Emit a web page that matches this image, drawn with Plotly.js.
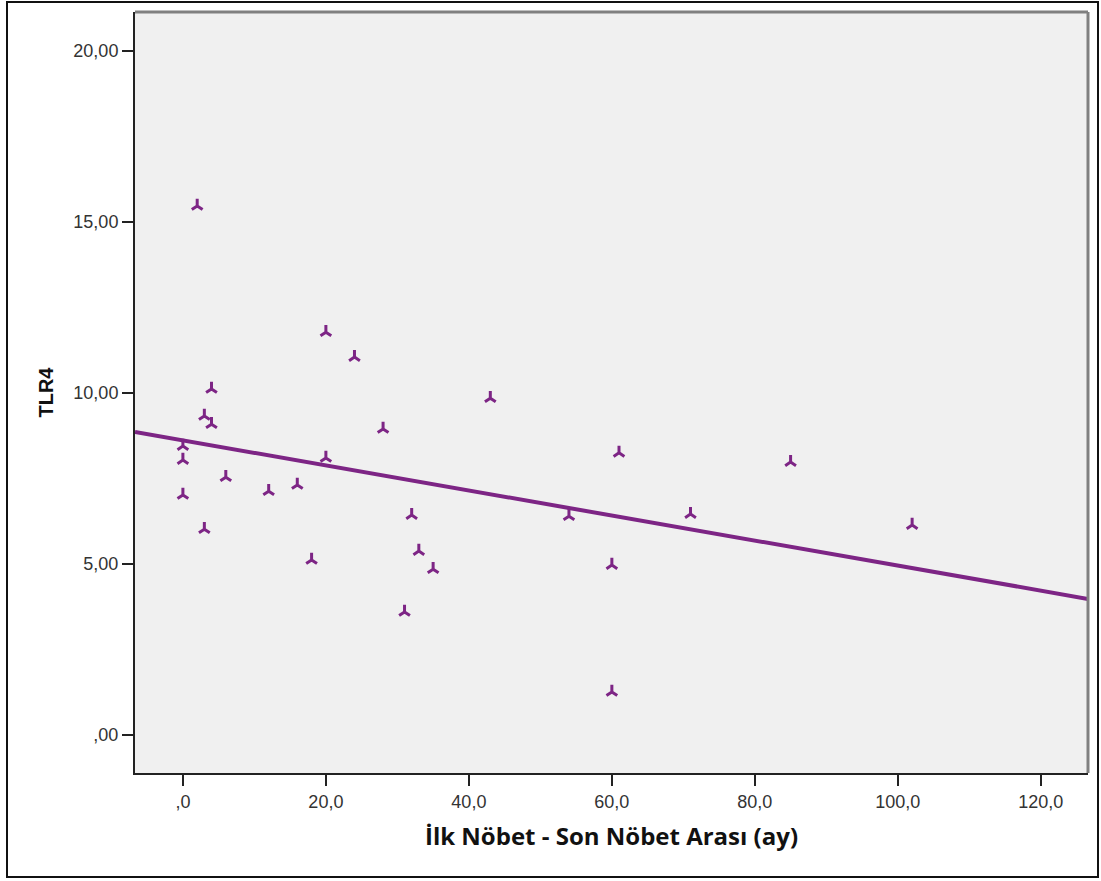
<!DOCTYPE html>
<html>
<head>
<meta charset="utf-8">
<script src="https://cdn.plot.ly/plotly-3.0.1.min.js"></script>
<style>html,body{margin:0;padding:0;background:#fff;} #chart{width:1101px;height:881px;}</style>
</head>
<body>
<div id="chart"></div>
<script>
// Data
const ayX = [2, 20, 24, 4, 43, 3, 4, 28, 0, 0, 61, 20, 85, 6, 12, 16, 0, 3, 32, 54, 71, 102, 33, 35, 18, 60, 31, 60];
const tlr4Y = [15.47, 11.78, 11.05, 10.12, 9.85, 9.33, 9.09, 8.95, 8.45, 8.04, 8.25, 8.1, 7.98, 7.54, 7.13, 7.31, 7.02, 6.02, 6.43, 6.4, 6.46, 6.14, 5.38, 4.85, 5.12, 4.97, 3.6, 1.26];
// Fit line (at the plot edges)
const fitX = [-6.7, 126.6];
const fitY = [8.86, 3.98];
// Tick values and labels
const xTickVals = [0, 20, 40, 60, 80, 100, 120];
const xTickText = [',0', '20,0', '40,0', '60,0', '80,0', '100,0', '120,0'];
const yTickVals = [0, 5, 10, 15, 20];
const yTickText = [',00', '5,00', '10,00', '15,00', '20,00'];

const purple = '#7d2585';
const W = 1101, H = 881, ML = 135, MR = 13, MT = 12, MB = 108;
const pw = W - ML - MR, ph = H - MT - MB;
function px(xp) { return (xp - ML) / pw; }
function py(yp) { return (H - MB - yp) / ph; }

const traces = [
  {
    x: fitX, y: fitY, type: 'scatter', mode: 'lines',
    line: {color: purple, width: 4}, hoverinfo: 'skip', showlegend: false
  },
  {
    x: ayX, y: tlr4Y, type: 'scatter', mode: 'markers',
    marker: {symbol: 'y-up', size: 9, color: purple, line: {color: purple, width: 3}},
    showlegend: false
  }
];

const layout = {
  width: W, height: H,
  margin: {l: ML, r: MR, t: MT, b: MB, pad: 0},
  paper_bgcolor: '#ffffff',
  plot_bgcolor: '#f0f0f0',
  showlegend: false,
  xaxis: {
    range: [fitX[0], fitX[1]],
    tickvals: xTickVals, ticktext: xTickText,
    ticks: 'outside', ticklen: 11, tickwidth: 2, tickcolor: '#222',
    showgrid: false, zeroline: false,
    showline: true, linecolor: '#222', linewidth: 2,
    tickfont: {family: 'Liberation Sans, Arial, sans-serif', size: 18, color: '#333'},
    title: {text: 'İlk Nöbet - Son Nöbet Arası (ay)', standoff: 18,
            font: {family: 'Open Sans, sans-serif', size: 24, color: '#111', weight: 'bold'}}
  },
  yaxis: {
    range: [-1.11, 21.14],
    tickvals: yTickVals, ticktext: yTickText,
    ticks: 'outside', ticklen: 11, tickwidth: 2, tickcolor: '#222',
    showgrid: false, zeroline: false,
    showline: true, linecolor: '#222', linewidth: 2,
    tickfont: {family: 'Liberation Sans, Arial, sans-serif', size: 18, color: '#333'},
    title: {text: 'TLR4', standoff: 14,
            font: {family: 'Liberation Sans, Arial, sans-serif', size: 20, color: '#111', weight: 'bold'}}
  },
  shapes: [
    // top and right frame (grey)
    {type: 'line', xref: 'paper', yref: 'paper', x0: 0, x1: 1, y0: 1, y1: 1,
     line: {color: '#808080', width: 3}},
    {type: 'line', xref: 'paper', yref: 'paper', x0: 1, x1: 1, y0: 0, y1: 1,
     line: {color: '#808080', width: 3}},
    // outer border of the image
    {type: 'rect', xref: 'paper', yref: 'paper',
     x0: px(7), x1: px(1098), y0: py(877), y1: py(2),
     line: {color: '#111', width: 2}, fillcolor: 'rgba(0,0,0,0)', layer: 'above'}
  ]
};

Plotly.newPlot('chart', traces, layout, {displayModeBar: false, staticPlot: true});
</script>
</body>
</html>
